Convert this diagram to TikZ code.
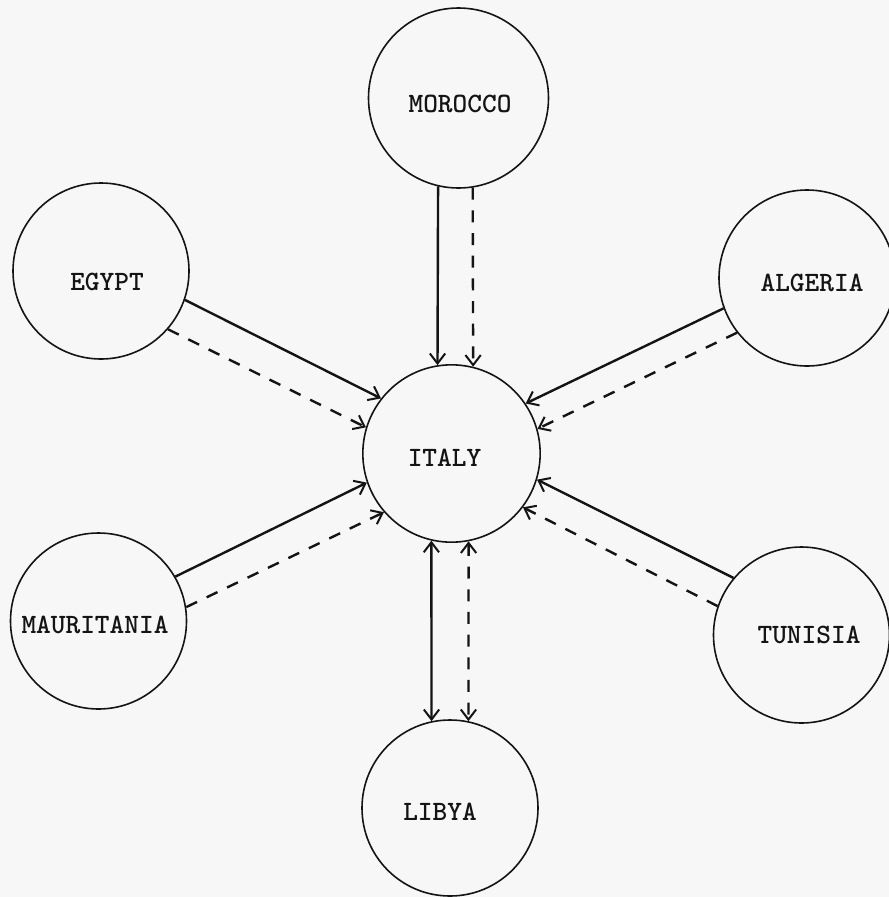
\documentclass[tikz,border=0pt]{standalone}
\usetikzlibrary{arrows.meta}
\definecolor{paper}{RGB}{247,247,247}
\definecolor{ink}{RGB}{20,20,20}
\begin{document}
\begin{tikzpicture}[x=0.75pt,y=-0.75pt,
  >={Straight Barb[length=7.5pt,width=11.5pt,line width=1.5pt]},
  country/.style={circle,draw=ink,line width=1.2pt,minimum size=#1,inner sep=0pt},
  country/.default=132pt,
  lbl/.style={font=\fontsize{21}{21}\selectfont\ttfamily\bfseries,text=ink,inner sep=0pt},
  solidln/.style={draw=ink,line width=1.8pt},
  dashln/.style={draw=ink,line width=1.8pt,dash pattern=on 9pt off 8pt}]
\fill[paper] (0,0) rectangle (889,897);
\useasboundingbox (0,0) rectangle (889,897);

% circles
\node[country=135pt] (morocco) at (458.5,98) {};
\node[country] (egypt) at (101,271) {};
\node[country] (algeria) at (807,278) {};
\node[country=133pt] (italy) at (451.5,453.5) {};
\node[country] (mauritania) at (98.5,621) {};
\node[country] (tunisia) at (801.5,635) {};
\node[country] (libya) at (450,808) {};

% labels
\node[lbl] (moroccolbl) at (460,104) {MOROCCO};
\node[lbl] (egyptlbl) at (107,282) {EGYPT};
\node[lbl] (algerialbl) at (812,283) {ALGERIA};
\node[lbl] (italylbl) at (444.5,457.5) {ITALY};
\node[lbl] (mauritanialbl) at (95,625) {MAURITANIA};
\node[lbl] (tunisialbl) at (809,635) {TUNISIA};
\node[lbl] (libyalbl) at (440,812) {LIBYA};

% connectors
\draw[solidln,->] (morocco.-103.8) -- (italy.99.4);
\draw[dashln,->] (morocco.-81.4) -- (italy.76.6);
\draw[solidln,->] (egypt.-19) -- (italy.142.2);
\draw[dashln,->] (egypt.-41.5) -- (italy.163.6);
\draw[solidln,->] (algeria.-160.6) -- (italy.34.3);
\draw[dashln,->] (algeria.-142.5) -- (italy.16.7);
\draw[solidln,->] (mauritania.30.9) -- (italy.-161.4);
\draw[dashln,->] (mauritania.9) -- (italy.-139.9);
\draw[solidln,->] (tunisia.140.6) -- (italy.-17.2);
\draw[dashln,->] (tunisia.161.5) -- (italy.-37.5);
\draw[solidln,<->] (italy.-103.4) -- (libya.102.5);
\draw[dashln,<->] (italy.-79.3) -- (libya.78.2);
\end{tikzpicture}
\end{document}
